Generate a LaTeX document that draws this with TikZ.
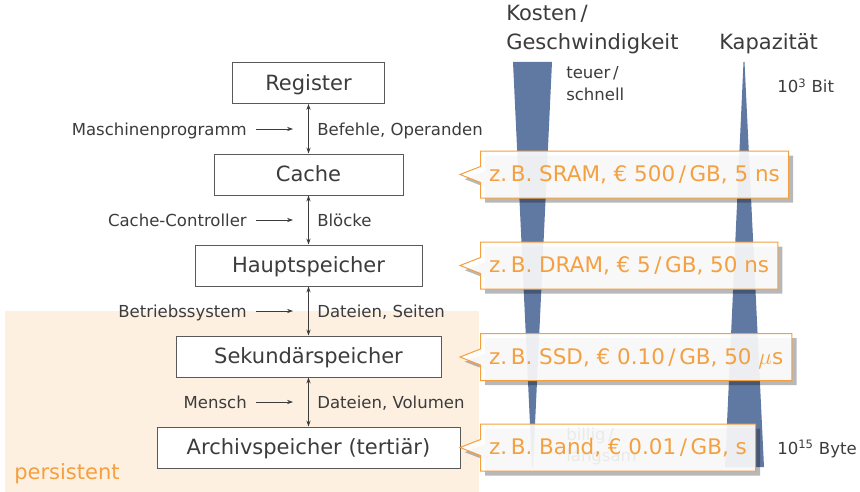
\documentclass[tikz,border=0pt]{standalone}
\usepackage{fontspec}
\setmainfont{DejaVu Sans}
\usetikzlibrary{shapes.callouts,shadows,arrows.meta}
\definecolor{wedgeblue}{RGB}{96,121,162}
\definecolor{orng}{RGB}{244,160,64}
\definecolor{persbg}{RGB}{253,240,225}
\definecolor{txt}{RGB}{60,60,60}
\definecolor{boxline}{RGB}{90,90,90}
\begin{document}
\begin{tikzpicture}[x=0.75pt,y=-0.75pt,
  big/.style={font=\fontsize{15.75}{18}\selectfont},
  small/.style={font=\fontsize{12.4}{15.75}\selectfont},
  membox/.style={draw=boxline,line width=0.75pt,fill=white,minimum height=30.75pt,inner sep=0pt,text=txt,big,text height=15pt,text depth=4.5pt},
  lbl/.style={small,text=txt,inner sep=0pt,text height=12pt,text depth=3pt},
  conn/.style={draw=txt,line width=0.6pt,{Stealth[length=4.5pt,width=3.2pt]}-{Stealth[length=4.5pt,width=3.2pt]}},
  hint/.style={draw=txt,line width=0.6pt,-{Stealth[length=4.5pt,width=3.2pt]}},
  info/.style={rectangle callout,draw=orng,line width=0.75pt,fill=white,fill opacity=0.9,text opacity=1,text=orng,font=\fontsize{16.1}{18}\selectfont,minimum height=35.25pt,inner xsep=6.5pt,inner ysep=0pt,text height=15pt,text depth=4.2pt,anchor=west,callout pointer width=12pt,drop shadow={shadow xshift=3.5pt,shadow yshift=-3.5pt,opacity=0.28,fill=black}}
]
% canvas
\fill[white] (0,0) rectangle (860,492);
\useasboundingbox (0,0) rectangle (860,492);
% persistent region
\fill[persbg] (5,311) rectangle (479,492);
\node[anchor=base west,inner sep=0pt,text=orng,font=\fontsize{15.75}{18}\selectfont] (pers) at (14,479) {persistent};

% wedges
\fill[wedgeblue] (513,62) -- (552,62) -- (533,467) -- (532,467) -- cycle;
\fill[wedgeblue] (743.5,62) -- (744.5,62) -- (764,467) -- (725,467) -- cycle;

% headings
\node[anchor=base west,inner sep=0pt,align=left,text=txt,font=\fontsize{15.75}{21.75}\selectfont] (kost) at (506,21) {Kosten\,/};
\node[anchor=base west,inner sep=0pt,text=txt,font=\fontsize{15.75}{21.75}\selectfont] (gesch) at (506,50) {Geschwindigkeit};
\node[anchor=base west,inner sep=0pt,text=txt,font=\fontsize{15.75}{21.75}\selectfont] (kap) at (719,50) {Kapazität};

% scale annotations
\node[anchor=base west,inner sep=0pt,small,text=txt] (teuer) at (566,79) {teuer\,/};
\node[anchor=base west,inner sep=0pt,small,text=txt] (schnell) at (566,100) {schnell};
\node[anchor=base west,inner sep=0pt,small,text=txt] (billig) at (566,440) {billig\,/};
\node[anchor=base west,inner sep=0pt,small,text=txt] (langsam) at (566,461) {langsam};
\node[lbl,anchor=west] (bit) at (777,87) {10\textsuperscript{3} Bit};
\node[lbl,anchor=west] (byte) at (777,448) {10\textsuperscript{15} Byte};

% memory boxes
\node[membox,minimum width=114pt] (reg) at (308.5,83) {Register};
\node[membox,minimum width=141.75pt] (cache) at (308.5,174.5) {Cache};
\node[membox,minimum width=170.25pt] (haupt) at (308.5,265.5) {Hauptspeicher};
\node[membox,minimum width=198.75pt] (sek) at (308.5,356.5) {Sekundärspeicher};
\node[membox,minimum width=227.25pt] (arch) at (308.5,447.5) {Archivspeicher (tertiär)};

% vertical connectors
\draw[conn] (reg.south) -- (cache.north);
\draw[conn] (cache.south) -- (haupt.north);
\draw[conn] (haupt.south) -- (sek.north);
\draw[conn] (sek.south) -- (arch.north);

% left labels
\node[lbl,anchor=east] (l1) at (247,129) {Maschinenprogramm};
\node[lbl,anchor=east] (l2) at (247,220) {Cache-Controller};
\node[lbl,anchor=east] (l3) at (247,311) {Betriebssystem};
\node[lbl,anchor=east] (l4) at (247,402) {Mensch};
\coordinate (t1) at (293,129);
\coordinate (t2) at (293,220);
\coordinate (t3) at (293,311);
\coordinate (t4) at (293,402);
\draw[hint] ([xshift=6.75pt]l1.east) -- (t1);
\draw[hint] ([xshift=6.75pt]l2.east) -- (t2);
\draw[hint] ([xshift=6.75pt]l3.east) -- (t3);
\draw[hint] ([xshift=6.75pt]l4.east) -- (t4);

% right labels
\node[lbl,anchor=west] (r1) at (317,129) {Befehle, Operanden};
\node[lbl,anchor=west] (r2) at (317,220) {Blöcke};
\node[lbl,anchor=west] (r3) at (317,311) {Dateien, Seiten};
\node[lbl,anchor=west] (r4) at (317,402) {Dateien, Volumen};

% callouts
\coordinate (p1) at (460,174.5);
\coordinate (p2) at (460,265.5);
\coordinate (p3) at (460,357);
\coordinate (p4) at (460,447.5);
\node[info,callout absolute pointer=(p1)] (c1) at (480,174.5) {z.\,B. SRAM, € 500\,/\,GB, 5 ns};
\node[info,callout absolute pointer=(p2)] (c2) at (480,265.5) {z.\,B. DRAM, € 5\,/\,GB, 50 ns};
\node[info,callout absolute pointer=(p3)] (c3) at (480,357) {z.\,B. SSD, € 0.10\,/\,GB, 50 $\mu$s};
\node[info,callout absolute pointer=(p4)] (c4) at (480,447.5) {z.\,B. Band, € 0.01\,/\,GB, s};
\end{tikzpicture}
\end{document}
